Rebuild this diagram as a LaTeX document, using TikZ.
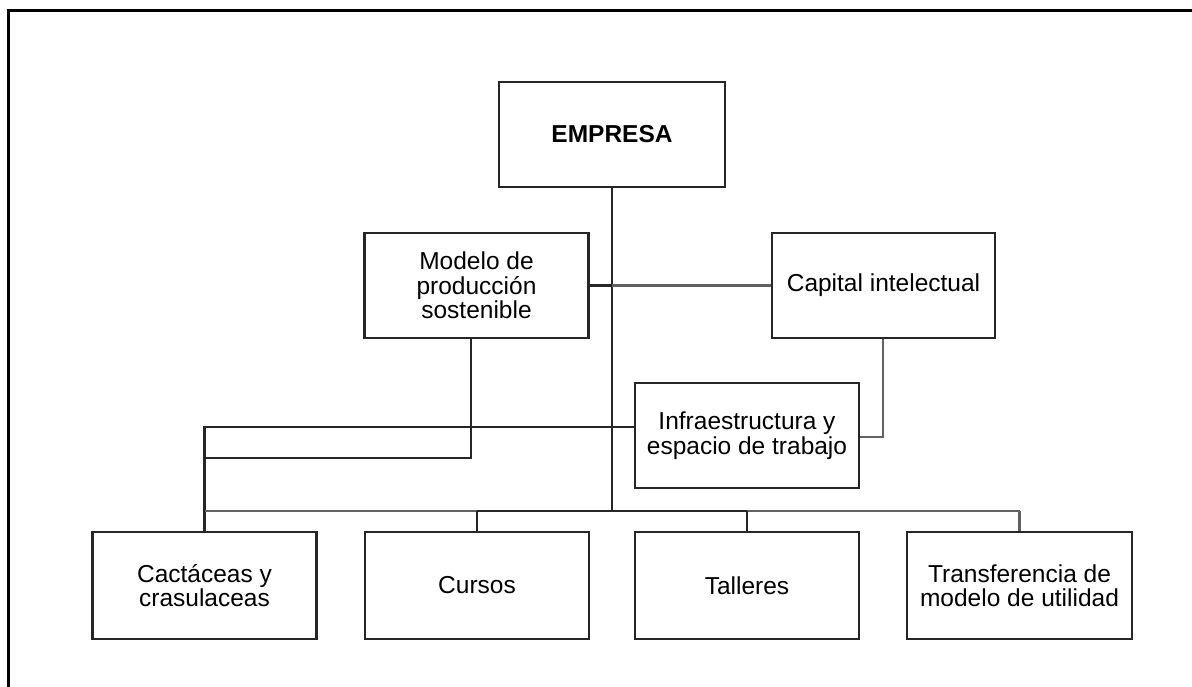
\documentclass[tikz,border=0pt]{standalone}
\usepackage{fontspec}
\setmainfont{Liberation Sans}
\begin{document}
\begin{tikzpicture}[x=1pt,y=-1pt,
  box/.style={draw=black!85, line width=2.2pt, rectangle, align=center,
    minimum width=224pt, minimum height=105pt, inner sep=0pt,
    font=\fontsize{24.5}{24.5}\selectfont},
  link/.style={draw=black!85, line width=2.2pt},
  softlink/.style={draw=black!62, line width=2.4pt}]
\useasboundingbox (0,0) rectangle (1192,687);
% outer frame (top and left edges)
\draw[line width=3pt] (8,690) -- (8,11) -- (1195,11);

% boxes
\node[box, minimum width=226pt] (emp) at (612,134.5) {\textbf{EMPRESA}};
\node[box] (mod) at (476.5,285.5) {Modelo de\\producción\\sostenible};
\node[box, minimum width=223pt] (cap) at (883.5,285.5) {Capital intelectual};
\node[box] (inf) at (747,435.5) {Infraestructura y\\espacio de trabajo};
\node[box, minimum height=107pt] (cac) at (204.5,585.5) {Cactáceas y\\crasulaceas};
\node[box, minimum height=107pt] (cur) at (477,585.5) {Cursos};
\node[box, minimum height=107pt] (tal) at (747,585.5) {Talleres};
\node[box, minimum height=107pt, minimum width=225pt] (tra) at (1019.5,585.5) {Transferencia de\\modelo de utilidad};

% junction points
\coordinate (hub) at (612,511);
\coordinate (busL) at (204.5,511);
\coordinate (infL) at (204.5,427);
\coordinate (modL) at (204.5,458);
\coordinate (modD) at (471,458);
\coordinate (capD) at (883,437);

% trunk from the company down to the lower row
\draw[link] (emp.south) -- (hub);
% sustainable model to intellectual capital
\draw[link] (mod.east) -- (emp.south |- mod.east);
\draw[softlink] (emp.south |- mod.east) -- (cap.west);
% intellectual capital to infrastructure
\draw[softlink] (cap.south -| capD) -- (capD) -- (capD -| inf.east);
% infrastructure to the plants box
\draw[link] (inf.west |- infL) -- (infL) -- (cac.north -| infL);
% sustainable model down and to the left
\draw[link] (mod.south -| modD) -- (modD) -- (modL);
% lower bus with drops
\draw[softlink] (busL) -- (hub -| cur.north);
\draw[link] (hub -| cur.north) -- (hub -| tal.north);
\draw[softlink] (hub -| tal.north) -- (hub -| tra.north);
\draw[link] (hub -| cur.north) -- (cur.north);
\draw[link] (hub -| tal.north) -- (tal.north);
\draw[softlink] (hub -| tra.north) -- (tra.north);
\end{tikzpicture}
\end{document}
